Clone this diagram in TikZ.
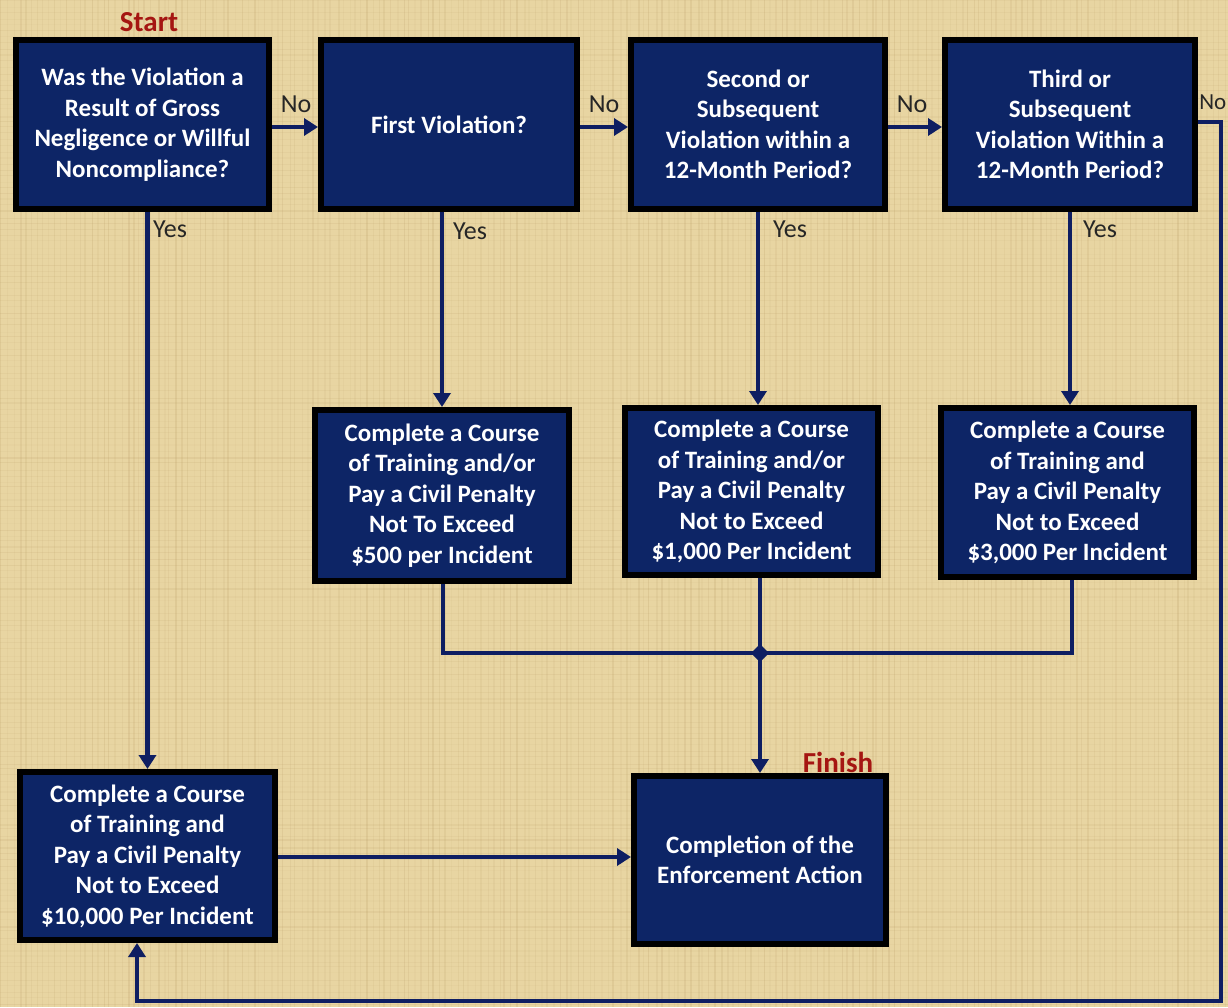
\documentclass[tikz,border=0pt]{standalone}
\usepackage{fontspec}
\setmainfont{Carlito}
\usetikzlibrary{arrows.meta}
\definecolor{bg}{RGB}{232,213,162}
\definecolor{streak}{RGB}{180,150,95}
\definecolor{navy}{RGB}{13,37,102}
\definecolor{linec}{RGB}{14,30,98}
\definecolor{startred}{RGB}{165,22,18}
\begin{document}
\begin{tikzpicture}[x=1pt,y=-1pt,
  box/.style={draw=black, line width=6pt, fill=navy, text=white,
    font=\bfseries\fontsize{25}{30.5}\selectfont, align=center, inner sep=0pt},
  conn/.style={draw=linec, line width=4.5pt, -{Triangle[length=14pt,width=17pt]}},
  plain/.style={draw=linec, line width=4.5pt},
  lbl/.style={font=\fontsize{26}{28}\selectfont, text=black!85, inner sep=0pt},
  tag/.style={font=\bfseries\fontsize{29}{30}\selectfont, text=startred, inner sep=0pt}
]
\useasboundingbox (0,0) rectangle (1228,1007);
\fill[bg] (0,0) rectangle (1228,1007);
\pgfmathsetseed{7}
\foreach \i in {0,...,204}{
  \pgfmathsetmacro{\op}{0.05+0.15*rnd}
  \pgfmathsetmacro{\xx}{\i*6+3*rnd}
  \draw[streak, opacity=\op, line width=1.5pt] (\xx,0) -- (\xx,1007);
}
\foreach \i in {0,...,167}{
  \pgfmathsetmacro{\op}{0.03+0.12*rnd}
  \pgfmathsetmacro{\yy}{\i*6+3*rnd}
  \draw[streak, opacity=\op, line width=1.2pt] (0,\yy) -- (1228,\yy);
}

% decision boxes
\node[box, minimum width=253pt, minimum height=169pt] (b1) at (142.5,124.5)
  {Was the Violation a\\Result of Gross\\Negligence or Willful\\Noncompliance?};
\node[box, minimum width=256pt, minimum height=169pt] (b2) at (449,124.5)
  {First Violation?};
\node[box, minimum width=254pt, minimum height=169pt] (b3) at (758,124.5)
  {Second or\\Subsequent\\Violation within a\\12-Month Period?};
\node[box, minimum width=250pt, minimum height=169pt] (b4) at (1070,124.5)
  {Third or\\Subsequent\\Violation Within a\\12-Month Period?};
% penalty boxes
\node[box, minimum width=254pt, minimum height=171pt] (b5) at (442,495.5)
  {Complete a Course\\of Training and/or\\Pay a Civil Penalty\\Not To Exceed\\\$500 per Incident};
\node[box, minimum width=253pt, minimum height=167pt] (b6) at (751.5,491.5)
  {Complete a Course\\of Training and/or\\Pay a Civil Penalty\\Not to Exceed\\\$1,000 Per Incident};
\node[box, minimum width=253pt, minimum height=169pt] (b7) at (1067.5,492.5)
  {Complete a Course\\of Training and\\Pay a Civil Penalty\\Not to Exceed\\\$3,000 Per Incident};
\node[box, minimum width=255pt, minimum height=168pt] (b8) at (147.5,856)
  {Complete a Course\\of Training and\\Pay a Civil Penalty\\Not to Exceed\\\$10,000 Per Incident};
\node[box, minimum width=252pt, minimum height=168pt] (b9) at (760,860)
  {Completion of the\\Enforcement Action};

% start / finish
\node[tag] (start) at (149,22) {Start};
\node[tag] (finish) at (838,762) {Finish};

% No arrows
\draw[conn] ([yshift=-2.5pt]b1.east) -- ([yshift=-2.5pt]b1.east -| b2.west);
\draw[conn] ([yshift=-2.5pt]b2.east) -- ([yshift=-2.5pt]b2.east -| b3.west);
\draw[conn] ([yshift=-2.5pt]b3.east) -- ([yshift=-2.5pt]b3.east -| b4.west);
\node[lbl] (no1) at (296,104) {No};
\node[lbl] (no2) at (604,104) {No};
\node[lbl] (no3) at (912,104) {No};
\node[lbl, anchor=east, font=\fontsize{23}{25}\selectfont] (no4) at (1226.5,102) {No};

% Yes arrows
\draw[conn] (b1.south -| b8.north) -- (b8.north);
\draw[conn] (b2.south -| b5.north) -- (b5.north);
\draw[conn] (b3.south) -- (b3.south |- b6.north);
\draw[conn] (b4.south) -- (b4.south |- b7.north);
\node[lbl] (yes1) at (170,229) {Yes};
\node[lbl] (yes2) at (470,231) {Yes};
\node[lbl] (yes3) at (790,229) {Yes};
\node[lbl] (yes4) at (1100,229) {Yes};

% merge to finish
\coordinate (j) at (760,653);
\draw[plain] ([xshift=1pt]b5.south) |- (j);
\draw[plain] ([xshift=4.5pt]b7.south) |- (j);
\draw[plain] (b6.south -| j) -- (j);
\draw[conn] (j) -- (j |- b9.north);
\fill[linec] (j) +(-9,0) -- +(0,-9) -- +(9,0) -- +(0,9) -- cycle;

% gross negligence penalty to finish
\draw[conn] ([yshift=-1pt]b8.east) -- ([yshift=-1pt]b8.east -| b9.west);

% loop back from third-or-subsequent "No"
\coordinate (lc) at (1221,1001);
\coordinate (lb) at (137,1001);
\draw[conn] ([yshift=2.5pt]b4.east) -| (lc) -- (lb) -- (lb |- b8.south);
\end{tikzpicture}
\end{document}
